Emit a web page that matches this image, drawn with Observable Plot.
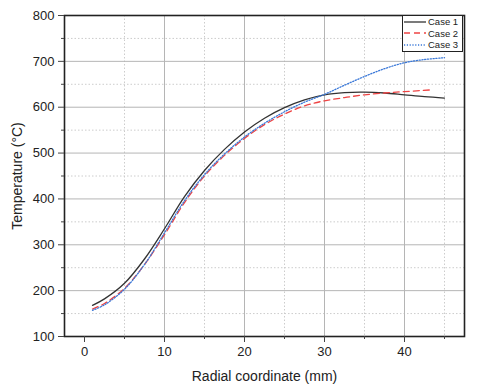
<!DOCTYPE html>
<html>
<head>
<meta charset="utf-8">
<script src="https://cdn.jsdelivr.net/npm/d3@7"></script>
<script src="https://cdn.jsdelivr.net/npm/@observablehq/plot@0.6"></script>
<style>
  body { margin: 0; background: #fff; font-family: "Liberation Sans", Arial, sans-serif; }
  #wrap { position: relative; width: 480px; height: 391px; }
  #legend { position: absolute; left: 402px; top: 15px; width: 61px; height: 37px;
            border: 1px solid #222; background: #fff; box-sizing: border-box; }
  #legend .row { display: flex; align-items: center; height: 11.5px; font-size: 9.5px; color: #222; }
  #legend svg { margin-left: 1px; margin-right: 2px; }
</style>
</head>
<body>
<div id="wrap"></div>
<script>
const xs1 = [1, 2.5, 5, 7.5, 10, 12.5, 15, 17.5, 20, 22.5, 25, 27.5, 30, 32.5, 35, 37.5, 40, 42.5, 45];
const case1 = [168, 182, 216, 269, 335, 405, 462, 508, 546, 576, 599, 616, 627, 632, 633, 631, 627, 623, 620];
const xs2 = [1, 2.5, 5, 7.5, 10, 12.5, 15, 17.5, 20, 22.5, 25, 27.5, 30, 32.5, 35, 37.5, 40, 43.5];
const case2 = [160, 172, 205, 257, 322, 392, 450, 495, 532, 562, 585, 603, 614, 621, 627, 631, 634, 638];
const xs3 = [1, 2.5, 5, 7.5, 10, 12.5, 15, 17.5, 20, 22.5, 25, 27.5, 30, 32.5, 35, 37.5, 40, 42.5, 45];
const case3 = [157, 169, 203, 257, 326, 396, 453, 498, 535, 565, 590, 611, 628, 648, 667, 684, 697, 704, 708];
const seriesNames = ["Case 1", "Case 2", "Case 3"];
const seriesColors = ["#333333", "#ee4444", "#3a78d8"];
const seriesDash = [null, "6,4", "1.2,1.6"];
const xMajor = [0, 10, 20, 30, 40];
const xMinor = [5, 15, 25, 35, 45];
const yMajor = [100, 200, 300, 400, 500, 600, 700, 800];
const yMinor = [150, 250, 350, 450, 550, 650, 750];

const data = [];
[[xs1, case1], [xs2, case2], [xs3, case3]].forEach(([xs, ys], i) => {
  xs.forEach((x, j) => data.push({x, y: ys[j], s: seriesNames[i]}));
});

const lines = seriesNames.map((name, i) =>
  Plot.line(data.filter(d => d.s === name), {
    x: "x", y: "y", curve: "catmull-rom",
    stroke: seriesColors[i], strokeWidth: 1.3,
    strokeDasharray: seriesDash[i]
  })
);

const chart = Plot.plot({
  width: 480, height: 391,
  marginLeft: 64, marginRight: 16, marginTop: 15, marginBottom: 55,
  style: {fontFamily: "Liberation Sans, Arial, sans-serif", fontSize: "13px", color: "#222", background: "#fff"},
  x: {domain: [-2.5, 47.5]},
  y: {domain: [100, 800]},
  marks: [
    Plot.ruleX(xMinor, {stroke: "#cccccc", strokeDasharray: "1.5,2", strokeWidth: 1}),
    Plot.ruleY(yMinor, {stroke: "#cccccc", strokeDasharray: "1.5,2", strokeWidth: 1}),
    Plot.ruleX(xMajor.filter(v => v > 0), {stroke: "#b5b5b5", strokeWidth: 1}),
    Plot.ruleY(yMajor.filter(v => v > 100 && v < 800), {stroke: "#b5b5b5", strokeWidth: 1}),
    ...lines,
    Plot.frame({stroke: "#222", strokeWidth: 1.6}),
    Plot.axisX(xMajor, {tickSize: 6, tickPadding: 4, label: "Radial coordinate (mm)", labelAnchor: "center", labelArrow: "none", labelOffset: 44, fontSize: 13, stroke: "#444"}),
    Plot.axisX(xMinor, {tickSize: 3, tickFormat: () => "", label: null, stroke: "#444"}),
    Plot.axisY(yMajor, {tickSize: 6, tickPadding: 4, label: "Temperature (°C)", labelAnchor: "center", labelArrow: "none", labelOffset: 52, fontSize: 13, stroke: "#444"}),
    Plot.axisY(yMinor, {tickSize: 3, tickFormat: () => "", label: null, stroke: "#444"})
  ]
});
chart.querySelectorAll("g[aria-label='x-axis label'] text, g[aria-label='y-axis label'] text").forEach(t => t.setAttribute("font-size", "14"));

const wrap = document.getElementById("wrap");
wrap.appendChild(chart);

const legend = document.createElement("div");
legend.id = "legend";
seriesNames.forEach((name, i) => {
  const row = document.createElement("div");
  row.className = "row";
  row.innerHTML = `<svg width="22" height="6"><line x1="0" y1="3" x2="22" y2="3" stroke="${seriesColors[i]}" stroke-width="1.3" ${seriesDash[i] ? `stroke-dasharray="${seriesDash[i]}"` : ""}/></svg><span>${name}</span>`;
  legend.appendChild(row);
});
wrap.appendChild(legend);
</script>
</body>
</html>
